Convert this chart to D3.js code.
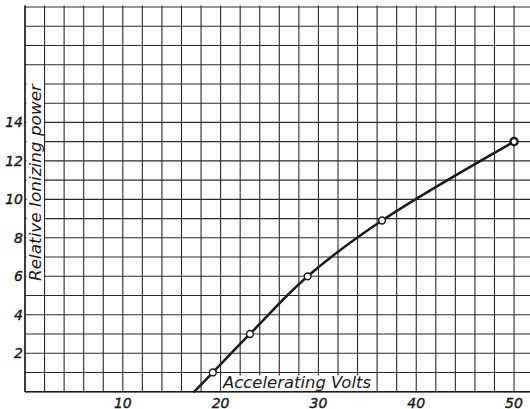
<!DOCTYPE html>
<html>
<head>
<meta charset="utf-8">
<script src="https://cdn.jsdelivr.net/npm/d3@7"></script>
<style>
html,body{margin:0;padding:0;background:#fff;}
svg{display:block;}
</style>
</head>
<body>
<svg id="chart" width="530" height="409"></svg>
<script>
// ---- data ----
const volts = [19.2, 23.0, 28.9, 36.5, 50.0];
const power = [1.0, 3.0, 6.0, 8.9, 13.0];
const curveStartVolts = 17.3;   // where the drawn curve meets the volts axis
const curveStartPower = 0;
const xTickValues = [10, 20, 30, 40, 50];
const yTickValues = [2, 4, 6, 8, 10, 12, 14];
const xTitle = "Accelerating Volts";
const yTitle = "Relative Ionizing power";

// ---- layout ----
const svg = d3.select("#chart");
const x = d3.scaleLinear().domain([0, 52]).range([25, 533.6]);
const y = d3.scaleLinear().domain([0, 20]).range([391.7, 7]);
const ink = "#1a1a1a";
const font = "'DejaVu Sans', 'Liberation Sans', sans-serif";

// grid
const grid = svg.append("g");
grid.selectAll("line.v").data(d3.range(0, 53, 2)).join("line")
  .attr("x1", d => x(d)).attr("x2", d => x(d))
  .attr("y1", y(20) - 1.5).attr("y2", y(0))
  .attr("stroke", "#2a2a2a").attr("stroke-width", 1.1);
grid.selectAll("line.h").data(d3.range(0, 21, 1)).join("line")
  .attr("x1", x(0)).attr("x2", 530)
  .attr("y1", d => y(d)).attr("y2", d => y(d))
  .attr("stroke", "#2a2a2a").attr("stroke-width", 1.1);
// axis lines thicker
svg.append("line").attr("x1", x(0)).attr("x2", 530).attr("y1", y(0)).attr("y2", y(0))
  .attr("stroke", ink).attr("stroke-width", 1.6);
svg.append("line").attr("x1", x(0)).attr("x2", x(0)).attr("y1", y(20) - 1.5).attr("y2", y(0))
  .attr("stroke", ink).attr("stroke-width", 1.4);

// tick labels
svg.append("g").selectAll("text").data(xTickValues).join("text")
  .attr("x", d => x(d)).attr("y", 407.5)
  .attr("text-anchor", "middle")
  .attr("font-family", font).attr("font-style", "italic").attr("font-size", 14)
  .attr("fill", ink).attr("stroke", ink).attr("stroke-width", 0.4)
  .text(d => d);
svg.append("g").selectAll("text").data(yTickValues).join("text")
  .attr("x", 23).attr("y", d => y(d))
  .attr("dy", "0.36em")
  .attr("text-anchor", "end")
  .attr("font-family", font).attr("font-style", "italic").attr("font-size", 14)
  .attr("fill", ink).attr("stroke", ink).attr("stroke-width", 0.4)
  .text(d => d);

// x title with white box
svg.append("rect").attr("x", 221).attr("y", 375.5).attr("width", 153).attr("height", 15.5).attr("fill", "#fff");
svg.append("text")
  .attr("x", 223).attr("y", 388)
  .attr("font-family", font).attr("font-style", "italic").attr("font-size", 15)
  .attr("textLength", 148).attr("lengthAdjust", "spacingAndGlyphs")
  .attr("fill", ink)
  .text(xTitle);

// y title with white box
svg.append("rect").attr("x", 26.5).attr("y", 82).attr("width", 17.5).attr("height", 200).attr("fill", "#fff");
svg.append("text")
  .attr("transform", "translate(41,281) rotate(-90)")
  .attr("font-family", font).attr("font-style", "italic").attr("font-size", 15)
  .attr("textLength", 197).attr("lengthAdjust", "spacingAndGlyphs")
  .attr("fill", ink)
  .text(yTitle);

// curve
const pts = [[curveStartVolts, curveStartPower]].concat(volts.map((v, i) => [v, power[i]]));
const line = d3.line().x(d => x(d[0])).y(d => y(d[1])).curve(d3.curveCatmullRom.alpha(0.5));
svg.append("path").datum(pts).attr("d", line)
  .attr("fill", "none").attr("stroke", ink).attr("stroke-width", 2.5).attr("stroke-linecap", "round");

// markers
svg.append("g").selectAll("circle").data(volts.map((v, i) => [v, power[i]])).join("circle")
  .attr("cx", d => x(d[0])).attr("cy", d => y(d[1]))
  .attr("r", (d, i) => i === volts.length - 1 ? 3.6 : 3.4)
  .attr("fill", "#fff").attr("stroke", ink)
  .attr("stroke-width", (d, i) => i === volts.length - 1 ? 2.4 : 1.5);
</script>
</body>
</html>
